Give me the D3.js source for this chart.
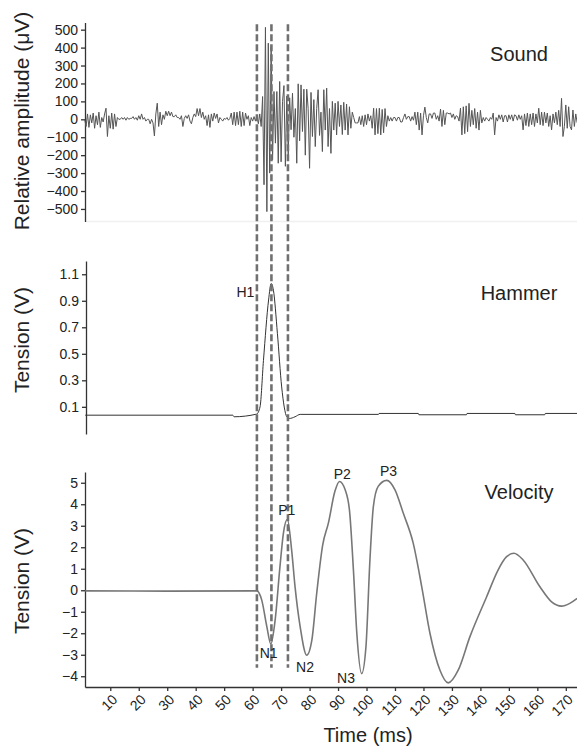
<!DOCTYPE html>
<html>
<head>
<meta charset="utf-8">
<script src="https://cdn.jsdelivr.net/npm/d3@7"></script>
<style>
  body { margin: 0; background: #fff; }
  svg text { font-family: "Liberation Sans", Arial, sans-serif; fill: #222; }
  .axis path, .axis line { stroke: #333; stroke-width: 1.3; }
  .axis text { font-size: 14px; fill: #222; }
</style>
</head>
<body>
<svg id="chart" width="577" height="749"></svg>
<script>
// ---- data ----
// sound trace (uV), sampled every 0.5 ms starting at 1 ms
const soundStart = 1.0, soundStep = 0.5;
const soundValues = [
  0,-40,30,-45,25,-20,35,-50,20,-30,40,-45,10,-15,30,62,-96,20,-50,35,
  -55,30,-40,10,0,0,10,0,10,-5,10,0,5,5,15,0,10,-5,20,0,
  30,0,10,-10,0,0,-25,0,-20,-93,30,90,-40,40,-30,25,0,45,20,45,
  20,40,15,15,25,10,10,0,20,-40,5,20,5,25,-10,-25,10,30,15,60,
  20,60,10,40,0,20,-35,25,-45,30,-10,35,5,30,-20,10,0,-10,5,0,
  10,-5,5,35,-30,40,-35,40,-30,45,-40,40,-35,35,0,20,-35,10,-10,15,
  -10,20,-25,30,-40,127,-365,513,-515,425,-300,405,-226,155,-133,155,-245,211,-237,100,
  188,-262,130,-200,120,-58,146,-100,60,-245,198,-120,192,-68,168,-200,168,60,-273,150,
  -96,110,-152,60,165,-90,40,-180,165,-60,174,-152,60,-190,100,-60,90,-87,100,-40,
  80,-85,95,-60,85,-87,70,-50,40,10,-20,-20,-20,15,-30,20,-40,25,-30,30,
  -10,20,-50,62,-87,60,-80,62,-87,55,-75,60,-40,20,-10,10,-10,10,10,-10,
  10,10,-15,-15,10,30,0,15,15,-10,15,-5,40,-30,40,-60,35,-87,20,68,
  10,-20,30,30,5,35,35,0,20,-10,57,-40,50,-30,35,35,30,35,10,30,
  0,20,15,-10,62,-87,70,-80,75,-69,89,-40,50,-30,60,-50,40,-60,50,-20,
  10,-10,10,0,-10,10,0,35,-87,10,-10,25,0,25,-15,20,20,-15,25,0,
  25,-10,25,20,-5,25,0,20,-59,30,-35,35,-40,30,-30,35,-40,30,-20,62,
  -30,40,-35,40,-20,35,-40,20,-59,30,-20,40,-30,50,-40,117,-96,-40,80,-50,
  70,-40,-59,52,-40,30,-20
];

// hammer trace (V)
const hammerTimes  = [1.2, 53, 53.5, 61.4, 62.6, 63.8, 65.6, 66.5, 67.3, 68.7, 70.2, 72, 72.9, 74.9, 76.7,
                      104.2, 104.4, 118.2, 118.4, 135.1, 135.3, 152.1, 152.3, 162.6, 162.8, 174];
const hammerValues = [0.037, 0.037, 0.025, 0.045, 0.1, 0.45, 0.906, 1.03, 0.98, 0.654, 0.25, 0.025, 0.012, 0.025, 0.043,
                      0.043, 0.05, 0.05, 0.04, 0.04, 0.05, 0.05, 0.04, 0.04, 0.05, 0.05];

// velocity trace (V)
const velTimes  = [1.2, 30, 61.5, 63.2, 65, 66.4, 67.9, 69.6, 70.8, 72.2, 73.7, 74.9, 76.7, 79, 80.8, 82.5,
                   84.6, 86.6, 88.9, 90.5, 92.5, 94, 95.4, 96.6, 98.3, 99.8, 101.2, 102.4, 104.1, 107.1,
                   110, 112.9, 116.4, 119.4, 122.3, 125.8, 128.7, 132.2, 136.3, 142.2, 146.2, 149.2,
                   151.8, 155, 160.9, 165, 168.5, 171.4, 174];
const velValues = [-0.03, -0.04, -0.03, -0.46, -1.7, -2.5, -1.39, 1.1, 2.65, 3.3, 1.87, 0.16, -1.7, -3.02, -2.32, -0.15,
                   2.1, 3.12, 4.6, 5.06, 4.67, 3.74, 0.94, -2.01, -3.88, -2.63, 1.41, 3.89, 4.83, 5.11,
                   4.67, 3.59, 2.19, 0.16, -2.01, -3.72, -4.31, -3.72, -2.17, -0.3, 0.94, 1.56,
                   1.72, 1.41, 0.16, -0.54, -0.74, -0.61, -0.38];

// dashed event markers (ms)
const markerTimes = [61.5, 66.6, 72.4];

// peak labels
const hammerLabel = {name: "H1", t: 61.3, v: 0.93};
const velLabelNames  = ["P1", "P2", "P3", "N1", "N2", "N3"];
const velLabelTimes  = [72.0, 91.5, 107.7, 65.6, 78.4, 92.8];
const velLabelValues = [3.5, 5.17, 5.33, -3.13, -3.8, -4.3];

// ticks
const xTicks      = d3.range(10, 171, 10);
const soundTicks  = [-500, -400, -300, -200, -100, 0, 100, 200, 300, 400, 500];
const hammerTicks = [0.1, 0.3, 0.5, 0.7, 0.9, 1.1];
const velTicks    = [-4, -3, -2, -1, 0, 1, 2, 3, 4, 5];

// ---- scales ----
const svg = d3.select("#chart");
const x = d3.scaleLinear().domain([1.12, 174]).range([85, 577.2]);
const ySound  = d3.scaleLinear().domain([-570, 540]).range([221.5, 22.5]);
const yHammer = d3.scaleLinear().domain([-0.105, 1.2]).range([434, 261]);
const yVel    = d3.scaleLinear().domain([-4.5, 5.5]).range([687, 472]);

// faint separator under the sound panel
svg.append("line")
  .attr("x1", 85).attr("x2", 577)
  .attr("y1", ySound(-570)).attr("y2", ySound(-570))
  .attr("stroke", "#f0f0f0").attr("stroke-width", 1.5);

// ---- y axes ----
function yAxis(scale, ticks, fmt, xPos) {
  const g = svg.append("g")
    .attr("class", "axis")
    .attr("transform", `translate(${xPos},0)`)
    .call(d3.axisLeft(scale).tickValues(ticks).tickFormat(fmt)
      .tickSize(4).tickPadding(3).tickSizeOuter(0));
  return g;
}
yAxis(ySound, soundTicks, d3.format("d"), 85);
yAxis(yHammer, hammerTicks, d3.format(".1f"), 86);
yAxis(yVel, velTicks, d3.format("d"), 85);

// ---- x axis ----
let xg = svg.append("g")
  .attr("class", "axis")
  .attr("transform", `translate(0,${yVel.range()[0]})`)
  .call(d3.axisBottom(x).tickValues(xTicks).tickSize(4).tickSizeOuter(0));
xg.selectAll("text")
  .attr("x", 0).attr("y", 0).attr("dy", "0.35em")
  .attr("transform", "translate(4,10) rotate(-45)")
  .style("text-anchor", "end");

// ---- traces ----
const soundData = soundValues.map((v, i) => ({t: soundStart + i * soundStep, v: v}))
  .filter(d => d.t <= 174);
svg.append("path")
  .datum(soundData)
  .attr("fill", "none").attr("stroke", "#555").attr("stroke-width", 1)
  .attr("d", d3.line().x(d => x(d.t)).y(d => ySound(d.v)));

const hammerData = hammerTimes.map((t, i) => ({t: t, v: hammerValues[i]}));
svg.append("path")
  .datum(hammerData)
  .attr("fill", "none").attr("stroke", "#333").attr("stroke-width", 1)
  .attr("d", d3.line().x(d => x(d.t)).y(d => yHammer(d.v)).curve(d3.curveMonotoneX));

const velData = velTimes.map((t, i) => ({t: t, v: velValues[i]}));
svg.append("path")
  .datum(velData)
  .attr("fill", "none").attr("stroke", "#777").attr("stroke-width", 1.6)
  .attr("d", d3.line().x(d => x(d.t)).y(d => yVel(d.v)).curve(d3.curveMonotoneX));

// ---- dashed markers ----
svg.selectAll(".marker")
  .data(markerTimes)
  .enter().append("line")
  .attr("class", "marker")
  .attr("x1", d => x(d)).attr("x2", d => x(d))
  .attr("y1", ySound(530)).attr("y2", yVel(-3.6))
  .attr("stroke", "#707070").attr("stroke-width", 2.6)
  .attr("stroke-dasharray", "7,3");

// ---- labels ----
svg.append("text")
  .attr("x", x(hammerLabel.t) - 2).attr("y", yHammer(hammerLabel.v))
  .style("text-anchor", "end").style("font-size", "14px")
  .text(hammerLabel.name);

svg.selectAll(".peak")
  .data(velLabelNames)
  .enter().append("text")
  .attr("class", "peak")
  .attr("x", (d, i) => x(velLabelTimes[i]))
  .attr("y", (d, i) => yVel(velLabelValues[i]))
  .style("text-anchor", "middle").style("font-size", "14px")
  .text(d => d);

// panel titles
const panelTitles = ["Sound", "Hammer", "Velocity"];
const panelTitleY = [61, 300, 499];
svg.selectAll(".ptitle")
  .data(panelTitles)
  .enter().append("text")
  .attr("class", "ptitle")
  .attr("x", 519).attr("y", (d, i) => panelTitleY[i])
  .style("text-anchor", "middle").style("font-size", "20px")
  .text(d => d);

// axis titles
const yTitles = ["Relative amplitude (\u03bcV)", "Tension (V)", "Tension (V)"];
const yTitleCenters = [121, 340, 581];
svg.selectAll(".ytitle")
  .data(yTitles)
  .enter().append("text")
  .attr("class", "ytitle")
  .attr("transform", (d, i) => `translate(29,${yTitleCenters[i]}) rotate(-90)`)
  .style("text-anchor", "middle").style("font-size", "21px")
  .text(d => d);

svg.append("text")
  .attr("x", 368).attr("y", 742)
  .style("text-anchor", "middle").style("font-size", "20px")
  .text("Time (ms)");
</script>
</body>
</html>
